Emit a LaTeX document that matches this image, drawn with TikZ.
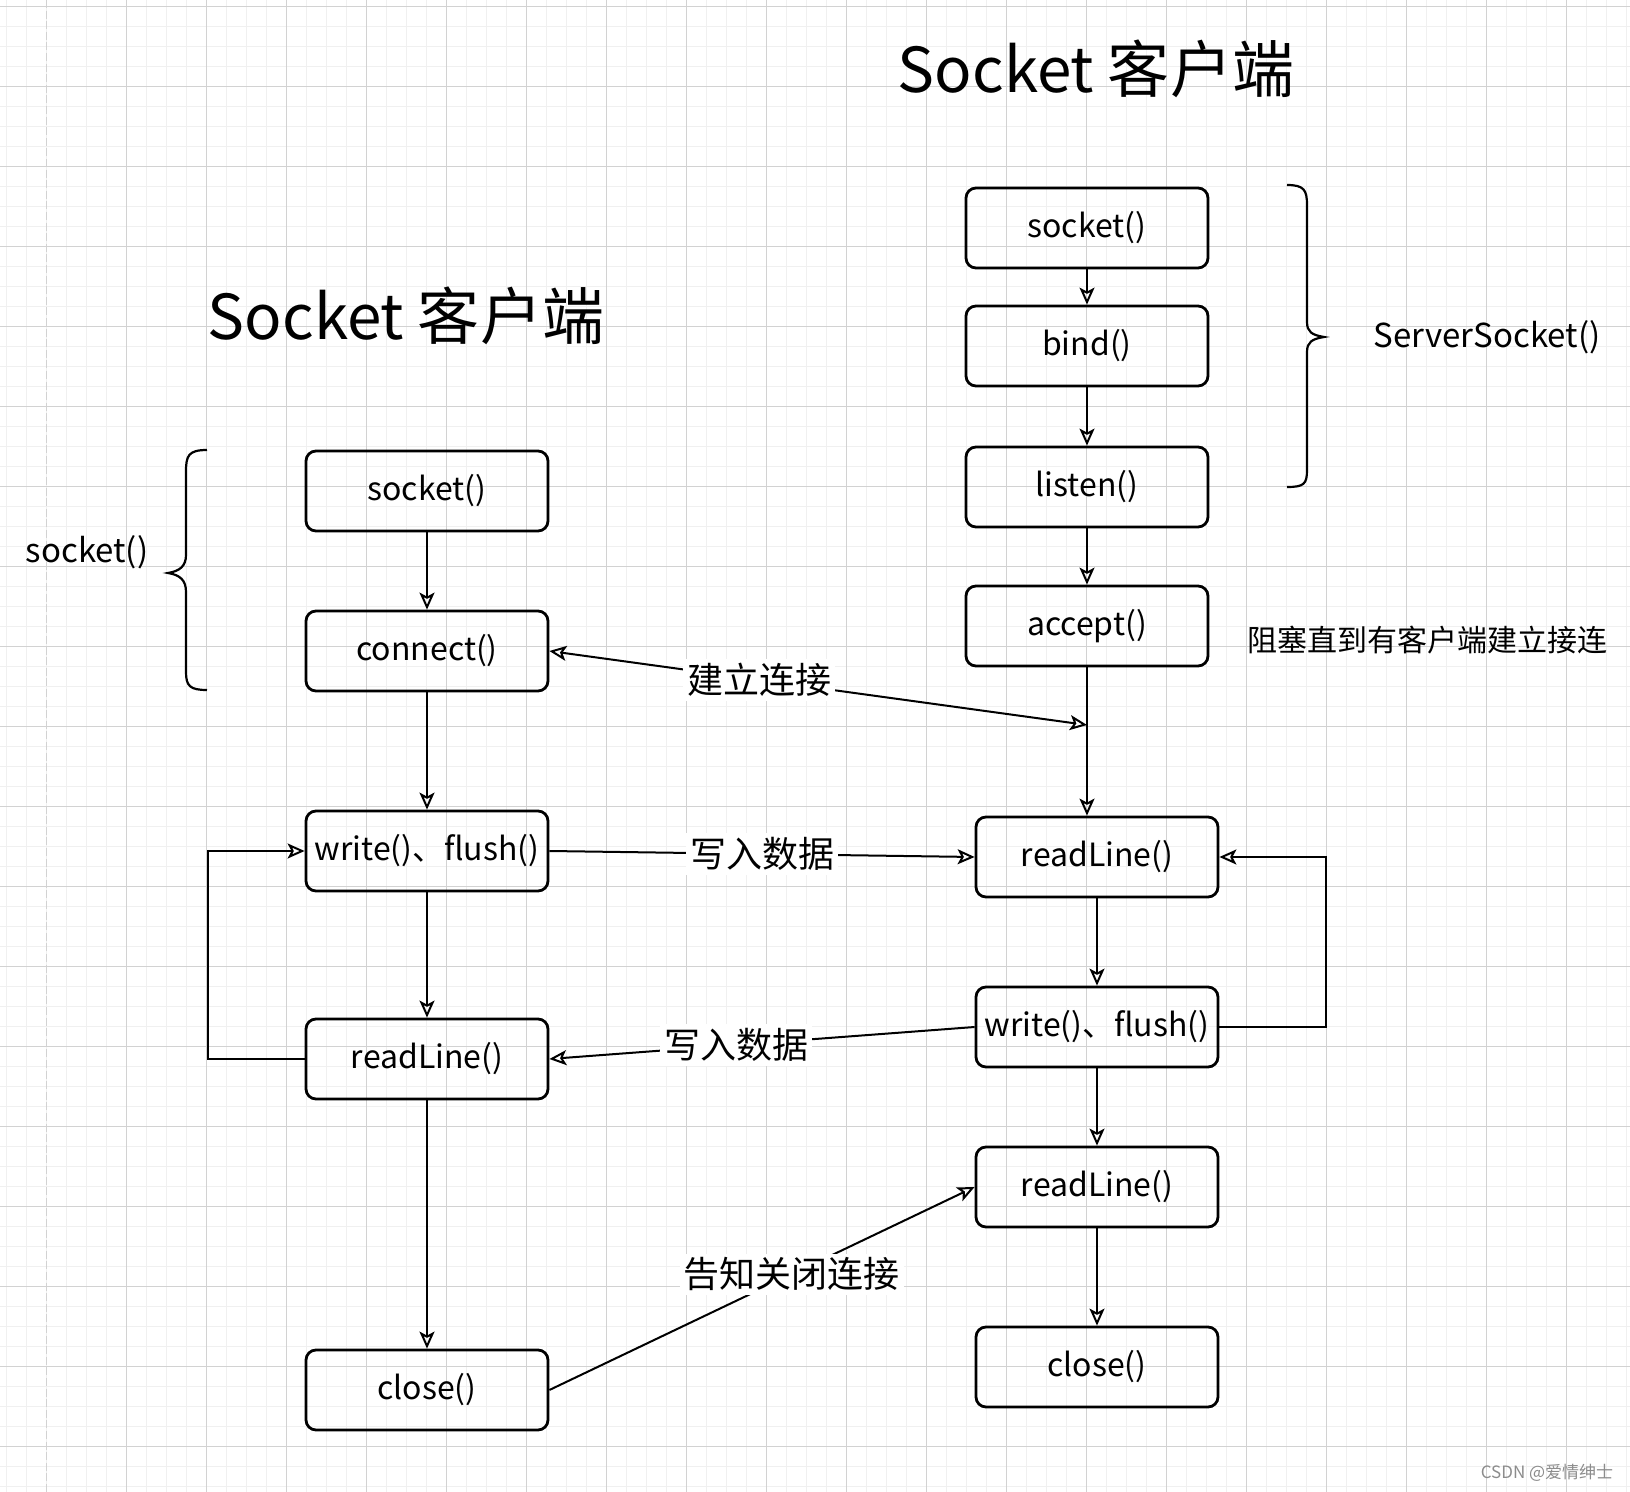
\documentclass[tikz,border=0pt]{standalone}
\usepackage{fontspec}
\setmainfont{Noto Sans CJK SC}
\usetikzlibrary{arrows.meta}
\definecolor{gmin}{HTML}{F0F0F0}
\definecolor{gmaj}{HTML}{D2D2D2}
\begin{document}
\begin{tikzpicture}[x=0.5pt,y=-0.5pt,
  box/.style={draw, line width=1.4pt, rounded corners=5pt, minimum width=121pt, minimum height=40pt, inner sep=0pt, font=\fontsize{16}{19}\selectfont},
  arr/.style={line width=1pt, -{Stealth[open,length=8.5pt,width=7.5pt,inset=2pt]}},
  darr/.style={line width=1pt, {Stealth[open,length=8.5pt,width=7.5pt,inset=2pt]}-{Stealth[open,length=8.5pt,width=7.5pt,inset=2pt]}},
  lbl/.style={fill=white, inner sep=2pt, font=\fontsize{18}{20}\selectfont},
  brace/.style={line width=1.1pt},
  ttl/.style={font=\fontsize{31}{34}\selectfont},
  note/.style={font=\fontsize{16.5}{19}\selectfont}]
\useasboundingbox (0,0) rectangle (1630,1492);
\fill[white] (0,0) rectangle (1630,1492);
% grid
\foreach \i in {0,...,81} {\draw[gmin, line width=0.5pt] ({6.67+20*\i},0) -- ++(0,1492);}
\foreach \i in {0,...,74} {\draw[gmin, line width=0.5pt] (0,{6.67+20*\i}) -- ++(1630,0);}
\foreach \i in {1,...,20} {\draw[gmaj, line width=0.5pt] ({46.67+80*\i},0) -- ++(0,1492);}
\foreach \i in {0,...,18} {\draw[gmaj, line width=0.5pt] (0,{6.67+80*\i}) -- ++(1630,0);}
\draw[gmaj, line width=0.8pt, dash pattern=on 4pt off 1.3pt] (46.67,0) -- (46.67,1492);

% titles
\node[ttl] (t2) at (1096,69) {Socket 客户端};
\node[ttl] (t1) at (406,316) {Socket 客户端};

% left column (client)
\node[box] (ls)  at (427,491)  {socket()};
\node[box] (lc)  at (427,651)  {connect()};
\node[box] (lw)  at (427,851)  {write()、flush()};
\node[box] (lr)  at (427,1059) {readLine()};
\node[box] (lcl) at (427,1390) {close()};

% right column (server)
\node[box] (rs)  at (1087,228)  {socket()};
\node[box] (rb)  at (1087,346)  {bind()};
\node[box] (rl)  at (1087,487)  {listen()};
\node[box] (ra)  at (1087,626)  {accept()};
\node[box] (rr)  at (1097,857)  {readLine()};
\node[box] (rw)  at (1097,1027) {write()、flush()};
\node[box] (rr2) at (1097,1187) {readLine()};
\node[box] (rcl) at (1097,1367) {close()};

% notes
\node[note] (nl) at (87,552) {socket()};
\node[note] (nr) at (1487,337) {ServerSocket()};
\node[note, font=\fontsize{15}{18}\selectfont] (nb) at (1427,640) {阻塞直到有客户端建立接连};
\node[font=\fontsize{8.5}{10}\selectfont, text=black!45] (wm) at (1547,1473) {CSDN @爱情绅士};

% braces
\draw[brace] (207,450) .. controls (188,450) and (186,456) .. (186,472)
  -- (186,555) .. controls (186,566) and (180,571) .. (168,573)
  .. controls (180,575) and (186,580) .. (186,592)
  -- (186,672) .. controls (186,686) and (190,690) .. (207,690);
\draw[brace] (1287,185) .. controls (1304,185) and (1307,190) .. (1307,205)
  -- (1307,322) .. controls (1307,332) and (1312,335) .. (1324,337)
  .. controls (1312,339) and (1307,342) .. (1307,352)
  -- (1307,470) .. controls (1307,484) and (1304,487) .. (1287,487);

% vertical flows
\draw[arr] (ls) -- (lc);
\draw[arr] (lc) -- (lw);
\draw[arr] (lw) -- (lr);
\draw[arr] (lr) -- (lcl);
\draw[arr] (rs) -- (rb);
\draw[arr] (rb) -- (rl);
\draw[arr] (rl) -- (ra);
\draw[arr] (ra.south) -- (ra.south |- rr.north);
\draw[arr] (rr) -- (rr.south |- rw.north);
\draw[arr] (rw) -- (rr2);
\draw[arr] (rr2) -- (rcl);

% connection
\coordinate (jn) at (1087,725);
\draw[darr] (lc.east) -- node[lbl, pos=0.39] {建立连接} (jn);
\draw[arr] (lw.east) -- node[lbl, pos=0.5] {写入数据} (rr.west);
\draw[arr] (rw.west) -- node[lbl, pos=0.56] {写入数据} (lr.east);
\draw[arr] (lcl.east) -- node[lbl, pos=0.57] {告知关闭连接} (rr2.west);

% loops
\coordinate (lp) at (208,0);
\coordinate (rp) at (1326,0);
\draw[arr] (lr.west) -- (lr.west -| lp) |- (lw.west);
\draw[arr] (rw.east) -- (rw.east -| rp) |- (rr.east);
\end{tikzpicture}
\end{document}
